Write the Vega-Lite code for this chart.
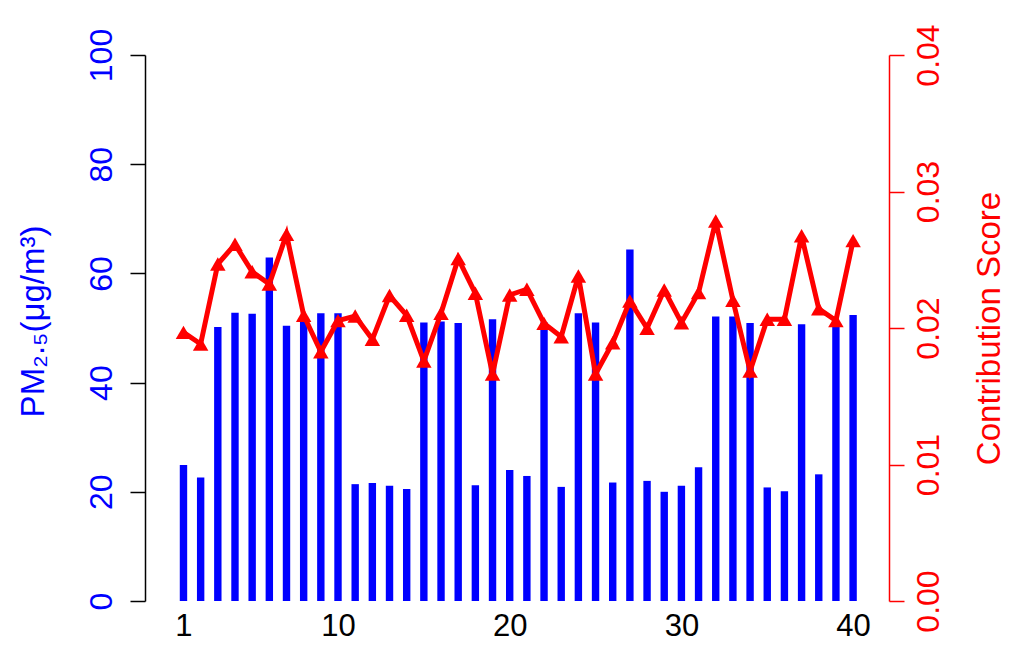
{
  "$schema": "https://vega.github.io/schema/vega-lite/v6.json",
  "autosize": {"type": "none"},
  "width": 744,
  "height": 546,
  "padding": {"left": 145, "top": 55, "right": 135, "bottom": 55},
  "background": "white",
  "config": {
    "view": {"stroke": null},
    "font": "Liberation Sans",
    "axis": {"grid": false, "labelFont": "Liberation Sans", "titleFont": "Liberation Sans", "titleFontWeight": "normal"}
  },
  "data": {
    "values": [
      {"x": 1, "pm": 24.9, "score": 0.01968},
      {"x": 2, "pm": 22.6, "score": 0.01883},
      {"x": 3, "pm": 50.2, "score": 0.02469},
      {"x": 4, "pm": 52.8, "score": 0.02613},
      {"x": 5, "pm": 52.6, "score": 0.02412},
      {"x": 6, "pm": 62.9, "score": 0.02322},
      {"x": 7, "pm": 50.4, "score": 0.02686},
      {"x": 8, "pm": 51.2, "score": 0.02093},
      {"x": 9, "pm": 52.7, "score": 0.01826},
      {"x": 10, "pm": 52.7, "score": 0.02054},
      {"x": 11, "pm": 21.4, "score": 0.02088},
      {"x": 12, "pm": 21.6, "score": 0.01917},
      {"x": 13, "pm": 21.1, "score": 0.02238},
      {"x": 14, "pm": 20.5, "score": 0.02093},
      {"x": 15, "pm": 51.0, "score": 0.01758},
      {"x": 16, "pm": 51.2, "score": 0.02108},
      {"x": 17, "pm": 50.9, "score": 0.02508},
      {"x": 18, "pm": 21.2, "score": 0.02254},
      {"x": 19, "pm": 51.6, "score": 0.01663},
      {"x": 20, "pm": 24.0, "score": 0.02242},
      {"x": 21, "pm": 22.9, "score": 0.02284},
      {"x": 22, "pm": 51.0, "score": 0.02034},
      {"x": 23, "pm": 20.9, "score": 0.01936},
      {"x": 24, "pm": 52.7, "score": 0.02381},
      {"x": 25, "pm": 51.0, "score": 0.01663},
      {"x": 26, "pm": 21.7, "score": 0.01892},
      {"x": 27, "pm": 64.4, "score": 0.02198},
      {"x": 28, "pm": 22.0, "score": 0.01998},
      {"x": 29, "pm": 20.0, "score": 0.02278},
      {"x": 30, "pm": 21.1, "score": 0.02039},
      {"x": 31, "pm": 24.5, "score": 0.02259},
      {"x": 32, "pm": 52.1, "score": 0.02784},
      {"x": 33, "pm": 52.1, "score": 0.02203},
      {"x": 34, "pm": 50.9, "score": 0.01685},
      {"x": 35, "pm": 20.8, "score": 0.02064},
      {"x": 36, "pm": 20.1, "score": 0.02064},
      {"x": 37, "pm": 50.7, "score": 0.02676},
      {"x": 38, "pm": 23.2, "score": 0.02141},
      {"x": 39, "pm": 51.0, "score": 0.02054},
      {"x": 40, "pm": 52.4, "score": 0.0264}
    ]
  },
  "encoding": {
    "x": {
      "field": "x",
      "type": "quantitative",
      "scale": {"domain": [-0.95, 41.8], "nice": false, "zero": false},
      "axis": {
        "title": null,
        "values": [1, 10, 20, 30, 40],
        "domain": false,
        "ticks": false,
        "labelFontSize": 31,
        "labelColor": "black",
        "labelPadding": 10,
        "labelFlush": false
      }
    }
  },
  "layer": [
    {
      "mark": {"type": "bar", "color": "#0000FF", "size": 7.4},
      "encoding": {
        "y": {
          "field": "pm",
          "type": "quantitative",
          "scale": {"domain": [0, 100], "nice": false},
          "axis": {
            "orient": "left",
            "title": "PM₂.₅(μg/m³)",
            "titleColor": "#0000FF",
            "titleFontSize": 33,
            "titleAngle": -90,
            "titleBaseline": "middle",
            "titleAlign": "center",
            "titleX": -112,
            "titleY": 266,
            "values": [0, 20, 40, 60, 80, 100],
            "labelAngle": -90,
            "labelColor": "#0000FF",
            "labelFontSize": 32,
            "labelPadding": 12,
            "labelFlush": false,
            "domainColor": "black",
            "domainWidth": 1.5,
            "tickColor": "black",
            "tickWidth": 1.5,
            "tickSize": 15
          }
        }
      }
    },
    {
      "layer": [
        {
          "mark": {"type": "line", "color": "#FF0000", "strokeWidth": 5},
          "encoding": {
            "y": {
              "field": "score",
              "type": "quantitative",
              "scale": {"domain": [0, 0.04], "nice": false},
              "axis": {
                "orient": "right",
                "title": "Contribution Score",
                "titleColor": "#FF0000",
                "titleFontSize": 33,
                "titleAngle": -90,
                "titleBaseline": "middle",
                "titleAlign": "center",
                "titleX": 100,
                "titleY": 273,
                "values": [0, 0.01, 0.02, 0.03, 0.04],
                "format": ".2f",
                "labelAngle": -90,
                "labelColor": "#FF0000",
                "labelFontSize": 32,
                "labelPadding": 9,
                "labelFlush": false,
                "domainColor": "#FF0000",
                "domainWidth": 1.5,
                "tickColor": "#FF0000",
                "tickWidth": 1.5,
                "tickSize": 15
              }
            }
          }
        },
        {
          "mark": {"type": "point", "shape": "triangle-up", "filled": true, "color": "#FF0000", "size": 240, "opacity": 1},
          "encoding": {
            "y": {"field": "score", "type": "quantitative"}
          }
        }
      ]
    }
  ],
  "resolve": {"scale": {"y": "independent"}}
}
